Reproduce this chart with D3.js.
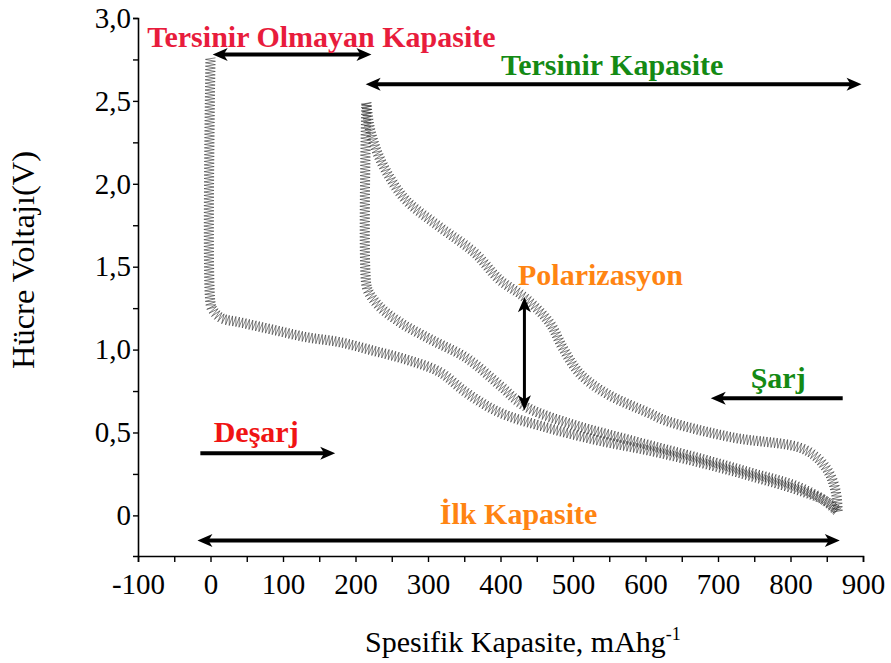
<!DOCTYPE html>
<html>
<head>
<meta charset="utf-8">
<script src="https://cdn.jsdelivr.net/npm/d3@7"></script>
<style>
  body { margin: 0; background: #fff; }
  svg { display: block; }
</style>
</head>
<body>
<svg id="chart" width="891" height="663"></svg>
<script>
// ---- axis ticks ----
const xMajorTicks = [-100, 0, 100, 200, 300, 400, 500, 600, 700, 800, 900];
const xMinorTicks = [-50, 50, 150, 250, 350, 450, 550, 650, 750, 850];
const yMajorTicks = [0, 0.5, 1.0, 1.5, 2.0, 2.5, 3.0];
const yMajorLabels = ["0", "0,5", "1,0", "1,5", "2,0", "2,5", "3,0"];
const yMinorTicks = [0.25, 0.75, 1.25, 1.75, 2.25, 2.75];

// ---- first discharge (mAh/g, V) ----
const discharge1Cap = [0, 0, 3, 15, 40, 86, 132, 178, 223, 270, 316, 353, 399, 468, 537, 606, 674, 743, 812, 847, 865];
const discharge1V   = [2.76, 1.28, 1.24, 1.19, 1.165, 1.12, 1.075, 1.045, 0.995, 0.94, 0.865, 0.74, 0.62, 0.525, 0.45, 0.39, 0.32, 0.24, 0.15, 0.09, 0.02];

// ---- second discharge ----
const discharge2Cap = [215, 215, 219, 233, 261, 306, 353, 399, 433, 491, 582, 674, 743, 812, 854, 865];
const discharge2V   = [2.49, 1.39, 1.34, 1.26, 1.165, 1.056, 0.95, 0.785, 0.66, 0.56, 0.45, 0.345, 0.26, 0.17, 0.07, 0.025];

// ---- charge ----
const chargeCap = [865, 863, 854, 836, 812, 720, 629, 606, 546, 509, 486, 468, 433, 399, 364, 316, 270, 247, 229, 219, 215];
const chargeV   = [0.02, 0.13, 0.25, 0.35, 0.41, 0.47, 0.57, 0.615, 0.735, 0.857, 1.01, 1.16, 1.316, 1.42, 1.585, 1.74, 1.9, 2.04, 2.2, 2.35, 2.49];

// ---- annotations (data units) ----
const arrowLabels = ["Tersinir Olmayan Kapasite", "Tersinir Kapasite", "Polarizasyon", "Şarj", "Deşarj", "İlk Kapasite"];
const arrowColors = ["#e81c3c", "#148a14", "#ff8412", "#148a14", "#f01414", "#ff8412"];
const labelCap = [153, 554, 538, 783, 63, 425];
const labelV   = [2.824, 2.655, 1.388, 0.766, 0.44, -0.054];
const arrowFrom = [[3, 2.78], [214, 2.6], [433, 1.316], [872, 0.706], [-14, 0.374], [-18, -0.151]];
const arrowTo   = [[222, 2.78], [898, 2.6], [433, 0.634], [690, 0.706], [172, 0.374], [868, -0.151]];
const arrowBoth = [true, true, true, false, false, true];
const arrowWidth = [4, 4, 3, 4, 4, 4];

const FONT = '"Liberation Serif"';
const svg = d3.select("#chart");
const x = d3.scaleLinear().domain([-100, 900]).range([138, 863]);
const y = d3.scaleLinear().domain([-0.245, 3.0]).range([556, 18]);

// ---- axes ----
const xAxis = svg.append("g").attr("transform", `translate(0,${y.range()[0]})`)
  .call(d3.axisBottom(x)
    .tickValues(xMajorTicks.concat(xMinorTicks))
    .tickFormat(d => xMajorTicks.includes(d) ? String(d) : "")
    .tickSize(6).tickPadding(11));
xAxis.select(".domain").attr("stroke-width", 1.6);
xAxis.selectAll(".tick line").attr("stroke-width", 1.4);
xAxis.selectAll("text").attr("font-size", 29).attr("fill", "#000").style("font-family", FONT);

const yAxis = svg.append("g").attr("transform", `translate(${x.range()[0]},0)`)
  .call(d3.axisLeft(y)
    .tickValues(yMajorTicks.concat(yMinorTicks))
    .tickFormat(d => { const i = yMajorTicks.indexOf(d); return i >= 0 ? yMajorLabels[i] : ""; })
    .tickSize(5).tickPadding(2));
yAxis.select(".domain").attr("stroke-width", 1.6);
yAxis.selectAll(".tick line").attr("stroke-width", 1.4);
yAxis.selectAll("text").attr("font-size", 29).attr("fill", "#000").style("font-family", FONT);

// axis titles
svg.append("text")
  .attr("transform", "translate(34,260) rotate(-90)")
  .attr("text-anchor", "middle").attr("font-size", 32.5).style("font-family", FONT)
  .text("Hücre Voltajı(V)");

const xt = svg.append("text")
  .attr("x", 365).attr("y", 652).attr("font-size", 30).style("font-family", FONT);
xt.append("tspan").text("Spesifik Kapasite, mAhg");
xt.append("tspan").attr("dy", -12).attr("font-size", 18).text("-1");

// ---- hatched curves ----
const line = d3.line().x(d => x(d[0])).y(d => y(d[1])).curve(d3.curveCatmullRom.alpha(0.5));

function zigzag(node, step, amp) {
  const L = node.getTotalLength();
  const pts = [];
  let i = 0;
  for (let s = 0; s <= L; s += step, i++) {
    const p = node.getPointAtLength(s);
    const a = node.getPointAtLength(Math.max(0, s - 1));
    const b = node.getPointAtLength(Math.min(L, s + 1));
    const dx = b.x - a.x, dy = b.y - a.y;
    const n = Math.hypot(dx, dy) || 1;
    const sg = i % 2 ? 1 : -1;
    pts.push([p.x - dy / n * amp * sg, p.y + dx / n * amp * sg]);
  }
  return pts;
}

const series = [
  d3.zip(discharge1Cap, discharge1V),
  d3.zip(discharge2Cap, discharge2V),
  d3.zip(chargeCap, chargeV)
];
const curves = svg.append("g");
series.forEach(data => {
  const guide = curves.append("path").attr("d", line(data)).attr("fill", "none").attr("stroke", "none");
  const pts = zigzag(guide.node(), 1.7, 5);
  curves.append("path")
    .attr("d", d3.line()(pts))
    .attr("fill", "none")
    .attr("stroke", "#2a2a2a")
    .attr("stroke-width", 0.6);
  guide.remove();
});

// ---- arrows and labels ----
function head(g, tip, from) {
  const dx = tip[0] - from[0], dy = tip[1] - from[1];
  const n = Math.hypot(dx, dy);
  const ux = dx / n, uy = dy / n, px = -uy, py = ux;
  const len = 15, half = 6.5, notch = 4;
  const b = [tip[0] - ux * len, tip[1] - uy * len];
  const pts = [
    tip,
    [b[0] + px * half, b[1] + py * half],
    [tip[0] - ux * (len - notch), tip[1] - uy * (len - notch)],
    [b[0] - px * half, b[1] - py * half]
  ];
  g.append("path").attr("d", "M" + pts.map(p => p.join(",")).join("L") + "Z").attr("fill", "#000");
}

const ann = svg.append("g");
arrowLabels.forEach((lab, i) => {
  const a = [x(arrowFrom[i][0]), y(arrowFrom[i][1])];
  const b = [x(arrowTo[i][0]), y(arrowTo[i][1])];
  const dx = b[0] - a[0], dy = b[1] - a[1], n = Math.hypot(dx, dy);
  const ux = dx / n, uy = dy / n;
  const a2 = arrowBoth[i] ? [a[0] + ux * 10, a[1] + uy * 10] : a;
  const b2 = [b[0] - ux * 10, b[1] - uy * 10];
  ann.append("line").attr("x1", a2[0]).attr("y1", a2[1]).attr("x2", b2[0]).attr("y2", b2[1])
    .attr("stroke", "#000").attr("stroke-width", arrowWidth[i]);
  head(ann, b, a);
  if (arrowBoth[i]) head(ann, a, b);
  ann.append("text")
    .attr("x", x(labelCap[i])).attr("y", y(labelV[i]))
    .attr("text-anchor", "middle").attr("font-size", 30).attr("font-weight", "bold")
    .style("font-family", FONT)
    .attr("fill", arrowColors[i]).text(lab);
});
</script>
</body>
</html>
